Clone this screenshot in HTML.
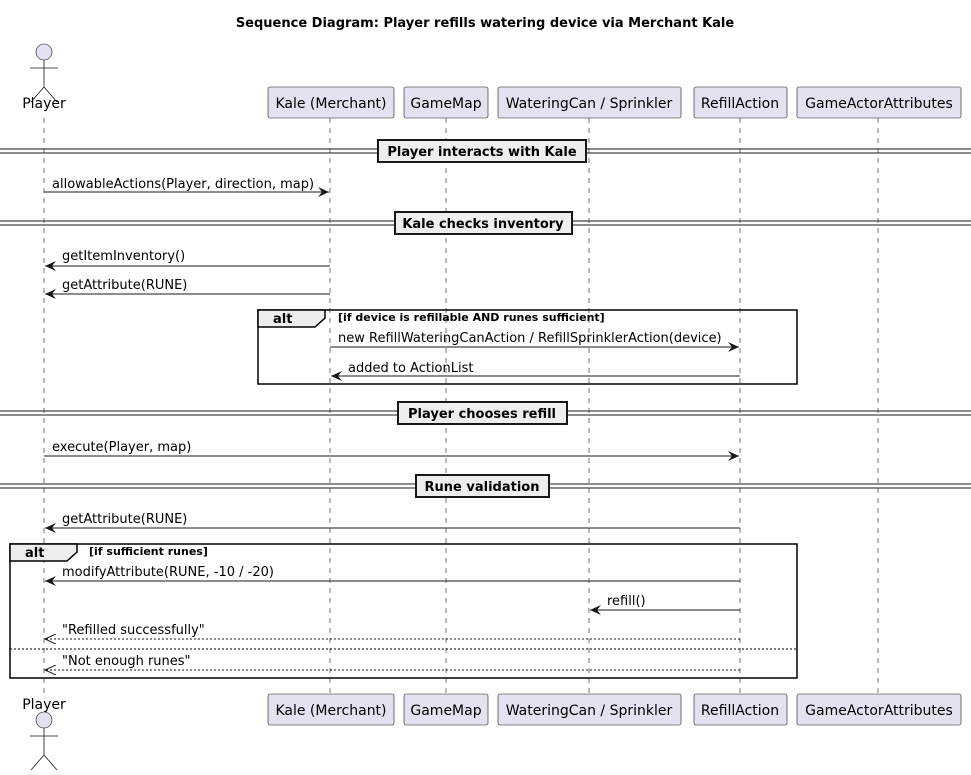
<!DOCTYPE html>
<html><head><style>body{margin:0;background:#fff}svg{display:block;font-family:"DejaVu Sans",sans-serif}</style></head><body>
<svg width="971" height="775" viewBox="0 0 971 775" xmlns="http://www.w3.org/2000/svg">
<defs>
<marker id="a" markerWidth="12" markerHeight="10" refX="11" refY="5" orient="auto" markerUnits="userSpaceOnUse"><path d="M0,0 L11,5 L0,10 L4,5 Z" fill="#181818"/></marker>
<marker id="o" markerWidth="12" markerHeight="10" refX="11" refY="5" orient="auto" markerUnits="userSpaceOnUse"><path d="M0,0 L11,5 L0,10" fill="none" stroke="#181818" stroke-width="1"/></marker>
</defs>
<text x="485" y="27" text-anchor="middle" font-size="13" font-weight="bold">Sequence Diagram: Player refills watering device via Merchant Kale</text>
<g stroke="#181818" stroke-width="0.6" stroke-dasharray="5,5">
<line x1="44" y1="118" x2="44" y2="694"/><line x1="330" y1="118" x2="330" y2="694"/><line x1="446" y1="118" x2="446" y2="694"/><line x1="589" y1="118" x2="589" y2="694"/><line x1="740" y1="118" x2="740" y2="694"/><line x1="878" y1="118" x2="878" y2="694"/>
</g>
<g fill="#E2E2F0" stroke="#181818" stroke-width="0.6">
<circle cx="44" cy="52" r="8"/><circle cx="44" cy="720" r="8"/>
<rect x="268" y="87" width="126" height="31" rx="2"/><rect x="404" y="87" width="84" height="31" rx="2"/><rect x="498" y="87" width="183" height="31" rx="2"/><rect x="694" y="87" width="93" height="31" rx="2"/><rect x="797" y="87" width="164" height="31" rx="2"/>
<rect x="268" y="694" width="126" height="31" rx="2"/><rect x="404" y="694" width="84" height="31" rx="2"/><rect x="498" y="694" width="183" height="31" rx="2"/><rect x="694" y="694" width="93" height="31" rx="2"/><rect x="797" y="694" width="164" height="31" rx="2"/>
</g>
<g stroke="#181818" stroke-width="0.8" fill="none">
<path d="M44,60 V87 M30,68 H58 M44,87 L31,102 M44,87 L57,102"/>
<path d="M44,728 V755 M30,736 H58 M44,755 L31,770 M44,755 L57,770"/>
</g>
<g font-size="14" text-anchor="middle">
<text x="44" y="108">Player</text><text x="44" y="709">Player</text>
<text x="331" y="108">Kale (Merchant)</text><text x="446" y="108">GameMap</text><text x="589" y="108">WateringCan / Sprinkler</text><text x="740" y="108">RefillAction</text><text x="879" y="108">GameActorAttributes</text>
<text x="331" y="715">Kale (Merchant)</text><text x="446" y="715">GameMap</text><text x="589" y="715">WateringCan / Sprinkler</text><text x="740" y="715">RefillAction</text><text x="879" y="715">GameActorAttributes</text>
</g>
<g stroke="#181818" stroke-width="1">
<line x1="0" y1="149" x2="971" y2="149"/><line x1="0" y1="153" x2="971" y2="153"/>
<line x1="0" y1="221" x2="971" y2="221"/><line x1="0" y1="225" x2="971" y2="225"/>
<line x1="0" y1="411" x2="971" y2="411"/><line x1="0" y1="415" x2="971" y2="415"/>
<line x1="0" y1="484" x2="971" y2="484"/><line x1="0" y1="488" x2="971" y2="488"/>
</g>
<g fill="#EEEEEE" stroke="#181818" stroke-width="2">
<rect x="378" y="140" width="208" height="22"/><rect x="395" y="212" width="177" height="22"/><rect x="398" y="402" width="169" height="22"/><rect x="416" y="475" width="133" height="22"/>
</g>
<g font-size="13" font-weight="bold" text-anchor="middle">
<text x="482" y="156">Player interacts with Kale</text><text x="483" y="228">Kale checks inventory</text><text x="482" y="418">Player chooses refill</text><text x="482" y="491">Rune validation</text>
</g>
<g fill="none" stroke="#000" stroke-width="1.5">
<rect x="258" y="310" width="539" height="74"/>
<rect x="10" y="544" width="787" height="134"/>
</g>
<path d="M258,310 H325 V318 L315,327 H258 Z" fill="#EEEEEE" stroke="#000" stroke-width="1.5"/>
<path d="M10,544 H77 V552 L67,561 H10 Z" fill="#EEEEEE" stroke="#000" stroke-width="1.5"/>
<line x1="10" y1="649" x2="797" y2="649" stroke="#000" stroke-width="1" stroke-dasharray="2,2"/>
<g font-weight="bold">
<text x="273" y="323" font-size="13">alt</text><text x="338" y="321" font-size="11">[if device is refillable AND runes sufficient]</text>
<text x="25" y="557" font-size="13">alt</text><text x="89" y="555" font-size="11">[if sufficient runes]</text>
</g>
<g stroke="#181818" stroke-width="1">
<line x1="44" y1="192" x2="329" y2="192" marker-end="url(#a)"/>
<line x1="330" y1="266" x2="45" y2="266" marker-end="url(#a)"/>
<line x1="330" y1="294" x2="45" y2="294" marker-end="url(#a)"/>
<line x1="330" y1="347" x2="739" y2="347" marker-end="url(#a)"/>
<line x1="740" y1="376" x2="331" y2="376" marker-end="url(#a)"/>
<line x1="44" y1="456" x2="739" y2="456" marker-end="url(#a)"/>
<line x1="740" y1="528" x2="45" y2="528" marker-end="url(#a)"/>
<line x1="740" y1="581" x2="45" y2="581" marker-end="url(#a)"/>
<line x1="740" y1="610" x2="590" y2="610" marker-end="url(#a)"/>
<line x1="740" y1="639" x2="45" y2="639" stroke-dasharray="2,2" marker-end="url(#o)"/>
<line x1="740" y1="670" x2="45" y2="670" stroke-dasharray="2,2" marker-end="url(#o)"/>
</g>
<g font-size="13">
<text x="52" y="188">allowableActions(Player, direction, map)</text>
<text x="62" y="260">getItemInventory()</text>
<text x="62" y="289">getAttribute(RUNE)</text>
<text x="338" y="342">new RefillWateringCanAction / RefillSprinklerAction(device)</text>
<text x="348" y="372">added to ActionList</text>
<text x="52" y="451">execute(Player, map)</text>
<text x="62" y="523">getAttribute(RUNE)</text>
<text x="62" y="576">modifyAttribute(RUNE, -10 / -20)</text>
<text x="607" y="605">refill()</text>
<text x="62" y="634">"Refilled successfully"</text>
<text x="62" y="665">"Not enough runes"</text>
</g>
</svg>
</body></html>
